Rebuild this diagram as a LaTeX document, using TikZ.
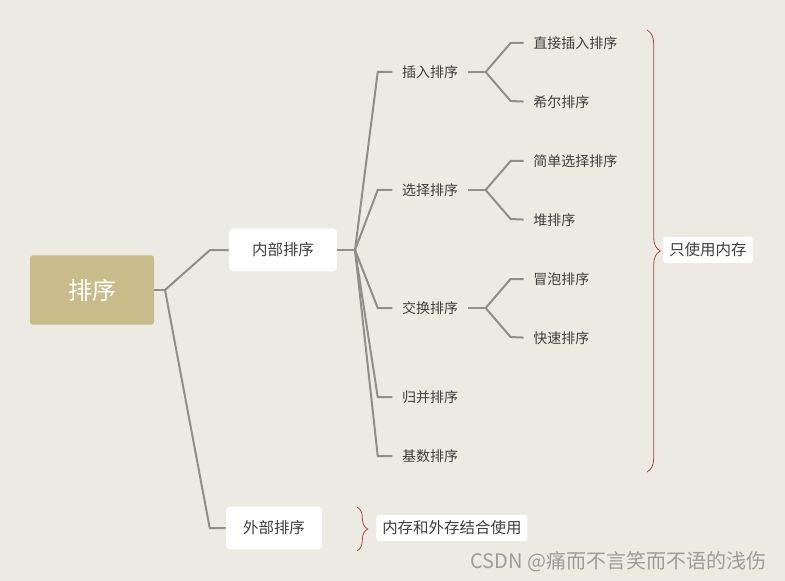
\documentclass[tikz,border=0pt]{standalone}
\usepackage{fontspec}
\setmainfont{Noto Sans CJK SC}
\usepackage{xcolor}
\usetikzlibrary{decorations.pathreplacing}

\definecolor{bgcol}{HTML}{EBEBE4}
\definecolor{rootcol}{HTML}{C8BD8A}
\definecolor{linecol}{HTML}{8E8F8A}
\definecolor{bracecol}{HTML}{B8403C}
\definecolor{textcol}{HTML}{3E3E3E}
\definecolor{markcol}{HTML}{9C9C9C}

\tikzset{
  rootbox/.style={fill=rootcol, rounded corners=2pt, minimum width=93pt, minimum height=52pt,
    text=white, font=\fontsize{18}{20}\selectfont},
  mainbox/.style={fill=white, rounded corners=3pt, minimum height=32pt,
    text=textcol, font=\fontsize{11.6}{13}\selectfont},
  leaf/.style={text=textcol, inner sep=0pt, font=\fontsize{10.5}{12}\selectfont},
  notebox/.style={fill=white, rounded corners=2pt, inner sep=4.5pt,
    text=textcol, font=\fontsize{11.6}{13}\selectfont},
  branch/.style={draw=linecol, line width=1.5pt},
  curly/.style={draw=bracecol, line width=0.6pt, decorate, decoration={brace, amplitude=#1}},
}

\begin{document}
\begin{tikzpicture}[x=0.75pt, y=-0.75pt]

\fill[bgcol] (0,0) rectangle (785,581);
\useasboundingbox (0,0) rectangle (785,581);

% root and first level
\node[rootbox] (root) at (92,290) {排序};
\node[mainbox, minimum width=81pt] (inner) at (283,250) {内部排序};
\node[mainbox, minimum width=72pt] (outer) at (274,528) {外部排序};

% second level
\node[leaf] (insert) at (430,72) {插入排序};
\node[leaf] (select) at (430,190) {选择排序};
\node[leaf] (swap) at (430,308) {交换排序};
\node[leaf] (merge) at (430,397) {归并排序};
\node[leaf] (radix) at (430,456) {基数排序};

% third level
\node[leaf, anchor=west] (direct) at (533,43) {直接插入排序};
\node[leaf, anchor=west] (shell) at (533,102) {希尔排序};
\node[leaf, anchor=west] (simple) at (533,161) {简单选择排序};
\node[leaf, anchor=west] (heap) at (533,220) {堆排序};
\node[leaf, anchor=west] (bubble) at (533,279) {冒泡排序};
\node[leaf, anchor=west] (quick) at (533,338) {快速排序};

% notes
\node[notebox, anchor=west] (memonly) at (663,250) {只使用内存};
\node[notebox, anchor=west] (memboth) at (376,528) {内存和外存结合使用};

\coordinate (rootj) at (165,290);
\coordinate (innerj) at (355,250);

% connectors
\draw[branch] (root.east) -- (rootj);
\draw[branch] (rootj) -- ([xshift=-14pt]inner.west) -- (inner.west);
\draw[branch] (rootj) -- ([xshift=-12pt]outer.west) -- (outer.west);

\draw[branch] (inner.east) -- (innerj);
\foreach \c in {insert,select,swap,merge,radix}
  \draw[branch] (innerj) -- ([xshift=-18pt]\c.west) -- ([xshift=-7pt]\c.west);

\foreach \p/\a/\b in {insert/direct/shell, select/simple/heap, swap/bubble/quick}{
  \draw[branch] ([xshift=7pt]\p.east) -- ++(18,0) coordinate (\p-j);
  \draw[branch, shorten >=7pt] (\p-j) -- ++(25,-29) -- (\a.west);
  \draw[branch, shorten >=7pt] (\p-j) -- ++(25,29) -- (\b.west);
}

% braces
\coordinate (memtop) at (647,30);
\coordinate (membot) at (647,472);
\draw[curly=10pt] (memtop) -- (membot);
\coordinate (exttop) at (357,507);
\coordinate (extbot) at (357,551);
\draw[curly=8pt] (exttop) -- (extbot);

% watermark
\node[text=markcol, font=\fontsize{15}{16}\selectfont, anchor=east] (mark) at (771,562) {CSDN @痛而不言笑而不语的浅伤};

\end{tikzpicture}
\end{document}
